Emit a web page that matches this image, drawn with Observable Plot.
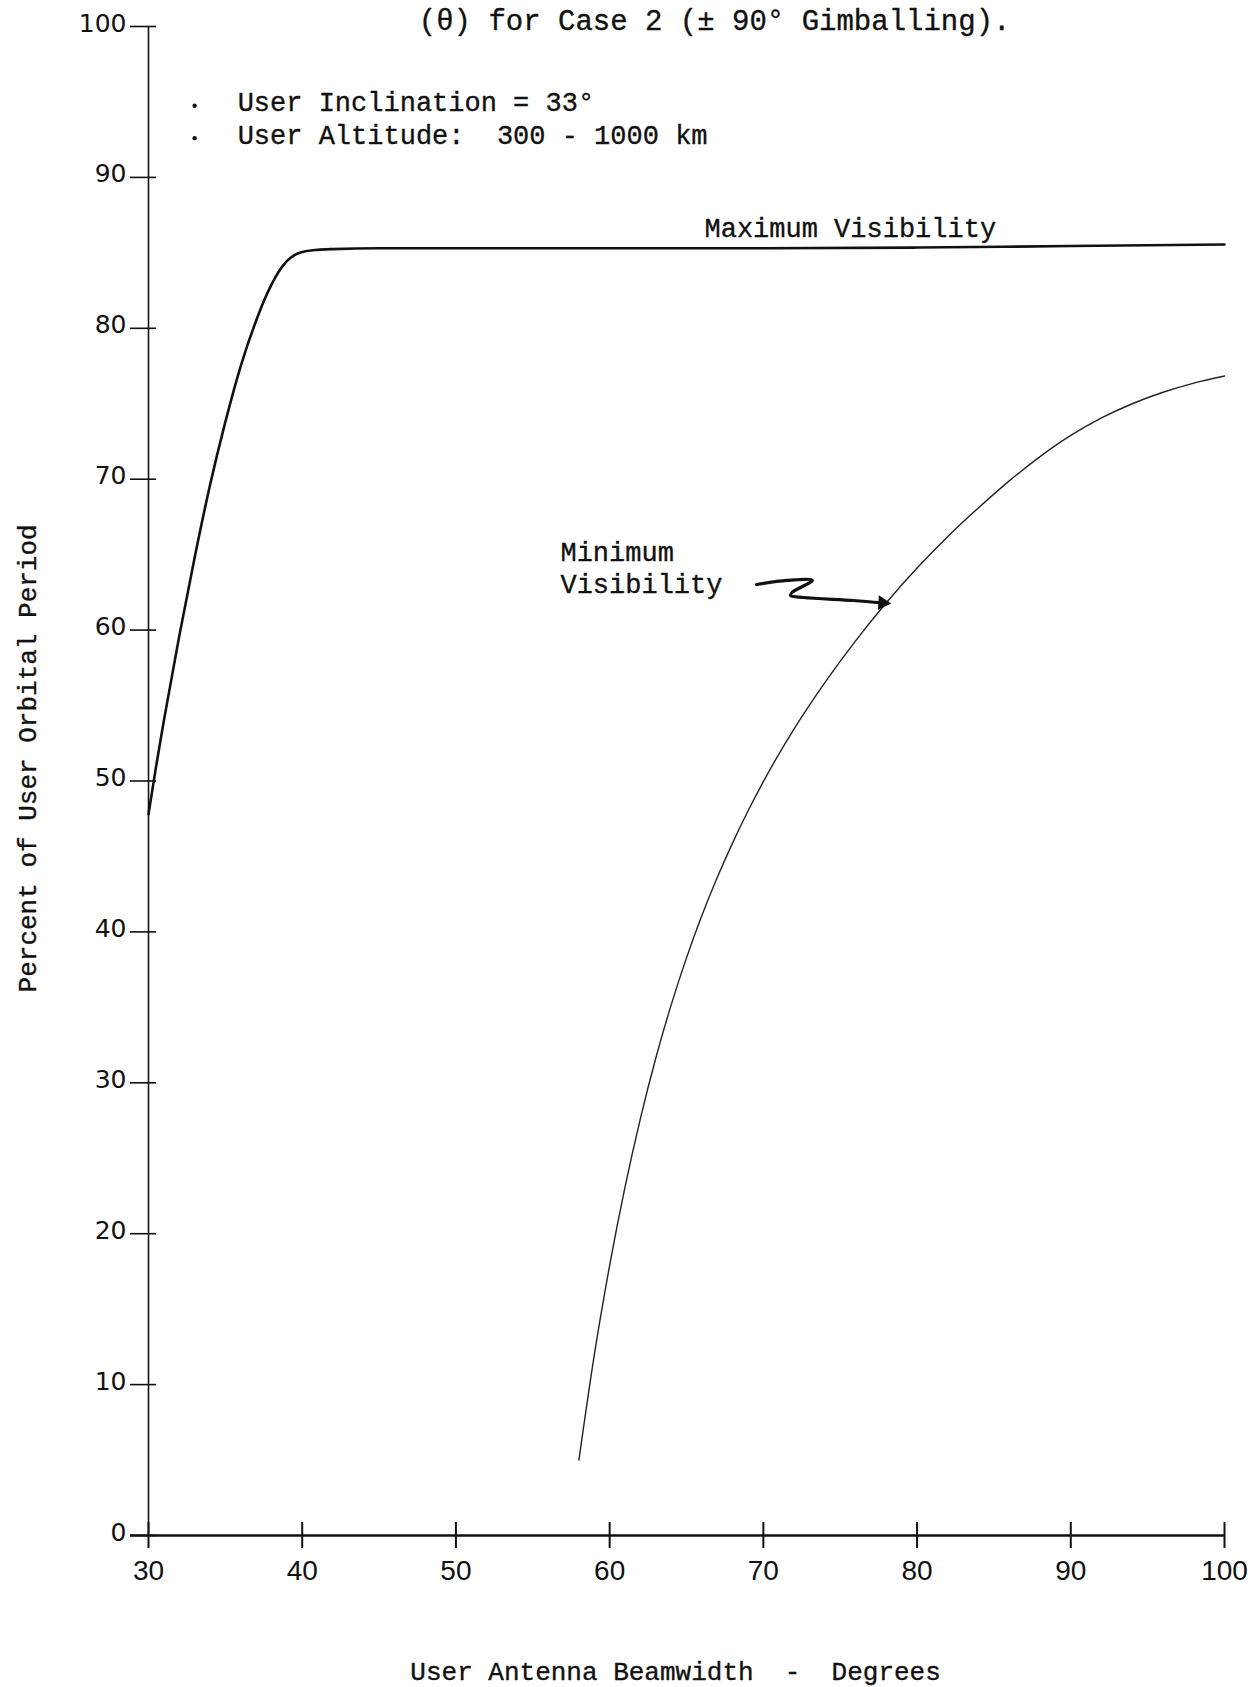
<!DOCTYPE html>
<html>
<head>
<meta charset="utf-8">
<script src="https://cdn.jsdelivr.net/npm/d3@7"></script>
<script src="https://cdn.jsdelivr.net/npm/@observablehq/plot@0.6"></script>
<style>
  html, body { margin: 0; padding: 0; background: #fff; }
  #chart svg text { white-space: pre; }
</style>
</head>
<body>
<div id="chart"></div>
<script>
// Maximum visibility: percent of user orbital period vs. antenna beamwidth (deg)
const maxBeamwidth = [30, 30.5, 31, 32, 33, 34, 35, 36, 37, 37.5, 38, 38.5, 39, 39.5, 40, 41, 42, 45, 50, 60, 70, 80, 90, 100];
const maxPercent   = [47.8, 51.0, 54.0, 59.6, 64.8, 69.6, 73.8, 77.5, 80.5, 81.8, 82.9, 83.8, 84.45, 84.85, 85.05, 85.2, 85.25, 85.3, 85.3, 85.3, 85.3, 85.35, 85.45, 85.55];

// Minimum visibility
const minBeamwidth = [58, 59, 60, 61, 62, 63, 64, 65, 66, 67, 68, 69, 70, 72, 74, 76, 78, 80, 82, 84, 86, 88, 90, 92, 94, 96, 98, 100];
const minPercent   = [5, 11.95, 17.9, 23.08, 27.63, 31.63, 35.15, 38.28, 41.08, 43.6, 45.9, 48.01, 49.96, 53.45, 56.52, 59.29, 61.81, 64.11, 66.21, 68.11, 69.89, 71.5, 72.9, 74.06, 75.0, 75.76, 76.37, 76.84];

const xTicks = [30, 40, 50, 60, 70, 80, 90, 100];
const yTicks = [0, 10, 20, 30, 40, 50, 60, 70, 80, 90, 100];

// Hand-drawn leader from the "Minimum Visibility" note to its curve
const leaderX = [69.56, 71.55, 73.18, 71.88, 71.77, 72.62, 75.87, 77.76];
const leaderY = [63.02, 63.29, 63.29, 62.51, 62.29, 62.16, 61.96, 61.80];

const maxRows = maxBeamwidth.map((x, i) => ({x, y: maxPercent[i]}));
const minRows = minBeamwidth.map((x, i) => ({x, y: minPercent[i]}));
const leaderRows = leaderX.map((x, i) => ({x, y: leaderY[i]}));
const tip = leaderRows[leaderRows.length - 1];

const ink = "#111";
const mono = "'Liberation Mono', 'Courier New', monospace";
// typewriter-style text: a hairline outline thickens the glyphs a little
const typed = {fontFamily: mono, fill: ink, stroke: ink, strokeWidth: 0.35};

const chart = Plot.plot({
  width: 1253,
  height: 1687,
  marginLeft: 148,
  marginRight: 29,
  marginTop: 26,
  marginBottom: 152,
  x: {domain: [30, 100], axis: null},
  y: {domain: [0, 100], axis: null},
  style: {background: "#fff", color: ink, overflow: "visible"},
  marks: [
    // axis lines
    Plot.ruleX([30], {stroke: ink, strokeWidth: 1.6}),
    Plot.ruleY([0], {x1: 30, x2: 100, insetLeft: -18, stroke: ink, strokeWidth: 2.4}),
    // tick marks crossing the axes
    Plot.ruleY(yTicks, {x1: 30, x2: 30, insetLeft: -18, insetRight: -8, stroke: ink, strokeWidth: 1.6}),
    Plot.ruleX(xTicks, {y1: 0, y2: 0, insetTop: -13, insetBottom: -13, stroke: ink, strokeWidth: 2}),
    // tick labels
    Plot.text(yTicks, {x: 30, y: d => d, text: d => `${d}`, textAnchor: "end", dx: -22, dy: -3,
      fontSize: 25, fontFamily: "'DejaVu Sans', sans-serif", fill: ink}),
    Plot.text(xTicks, {x: d => d, y: 0, text: d => `${d}`, dy: 36,
      fontSize: 28, fontFamily: "'Liberation Sans Narrow', 'Liberation Sans', sans-serif", fill: ink}),
    // curves
    Plot.line(maxRows, {x: "x", y: "y", curve: "monotone-x", stroke: ink, strokeWidth: 2.6}),
    Plot.line(minRows, {x: "x", y: "y", curve: "monotone-x", stroke: "#222", strokeWidth: 1.4}),
    // leader arrow
    Plot.line(leaderRows, {x: "x", y: "y", curve: "catmull-rom", stroke: ink, strokeWidth: 3.2}),
    Plot.dot([tip], {x: "x", y: "y", symbol: "triangle", r: 5.5, rotate: 94, fill: ink, stroke: null}),
    // title line and notes
    Plot.text(["(θ) for Case 2 (± 90° Gimballing)."], {x: 66.83, y: 99.8, lineAnchor: "bottom",
      fontSize: 29, ...typed}),
    Plot.dot([{x: 33.0, y: 94.75}, {x: 33.0, y: 92.6}], {x: "x", y: "y", r: 2.2, fill: ink, stroke: null}),
    Plot.text(["User Inclination = 33°", "User Altitude:  300 - 1000 km"], {
      x: 35.8, y: (d, i) => [94.37, 92.24][i], textAnchor: "start", lineAnchor: "bottom",
      fontSize: 27, ...typed}),
    Plot.text(["Maximum Visibility"], {x: 66.17, y: 86.04, textAnchor: "start", lineAnchor: "bottom",
      fontSize: 27, ...typed}),
    Plot.text(["Minimum\nVisibility"], {x: 56.8, y: 62.45, textAnchor: "start", lineAnchor: "bottom",
      lineHeight: 1.19, fontSize: 27, ...typed}),
    // axis titles
    Plot.text(["User Antenna Beamwidth  -  Degrees"], {x: 64.29, y: -9.6, lineAnchor: "bottom",
      fontSize: 26, ...typed}),
    Plot.text(["Percent of User Orbital Period"], {x: 22.13, y: 51.5, rotate: -90,
      fontSize: 26, ...typed})
  ]
});

document.getElementById("chart").append(chart);
</script>
</body>
</html>
